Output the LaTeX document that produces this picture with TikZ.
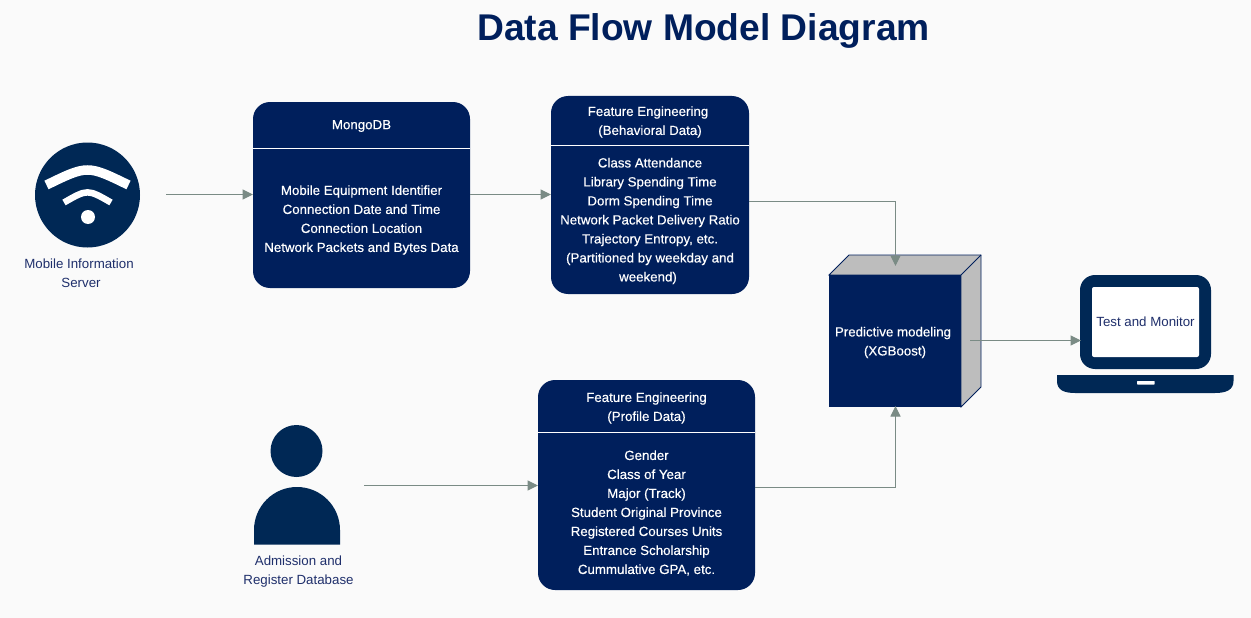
\documentclass[tikz,border=0pt]{standalone}
\usepackage{fontspec}
\setmainfont{Liberation Sans}
\newfontfamily\panelfont[FakeBold=0.4]{Liberation Sans}
\usetikzlibrary{arrows.meta}
\definecolor{navy}{HTML}{001F5C}
\definecolor{icon}{HTML}{002855}
\definecolor{bgc}{HTML}{FAFAFA}
\definecolor{conn}{HTML}{7A8B85}
\definecolor{lab}{HTML}{1F2F6B}
\definecolor{side}{HTML}{BDBDBD}
\tikzset{
  x=1pt,y=-1pt,
  conn/.style={draw=conn,line width=1pt,-{Triangle[length=10.5pt,width=10pt]}},
  panel/.style={fill=navy,draw=none,rounded corners=17pt},
  rule/.style={draw=white,line width=1pt},
  inbox/.style={text=white,align=center,font=\panelfont\fontsize{13.3}{19}\selectfont,inner sep=0pt},
  label/.style={text=lab,align=center,font=\fontsize{13.3}{19}\selectfont,inner sep=0pt},
}
\begin{document}
\begin{tikzpicture}
\useasboundingbox (0,0) rectangle (1251,618);
\fill[bgc] (0,0) rectangle (1251,618);
\node[text=navy,font=\bfseries\fontsize{37.2}{40}\selectfont,inner sep=0pt] (title) at (703.5,31) {Data Flow Model Diagram};

% wifi icon
\node[circle,fill=icon,minimum size=105pt,inner sep=0pt] (wifi) at (87.5,195) {};
\draw[white,line width=9.5pt] (46.5,185) .. controls (87.5,165) .. (128.5,185);
\draw[white,line width=6.5pt] (64,202.5) .. controls (87.5,189) .. (111,202.5);
\fill[white] (88,217) circle (7);
\node[label] (wifil) at (79,273) {Mobile Information\\\hspace*{4pt}Server};

% person icon
\node[circle,fill=icon,minimum size=52pt,inner sep=0pt] (head) at (296.5,451) {};
\fill[icon] (254,544.5) -- (254,530) arc[start angle=180,end angle=0,x radius=43,y radius=-43] -- (340,544.5) -- cycle;
\node[label] (personl) at (298.5,571.5) {Admission and\\Register Database};

% panels
\fill[panel] (253,102) rectangle (470,288);
\coordinate (mongoL) at (253,194);
\coordinate (mongoR) at (470,194);
\draw[rule] (253,148) -- (470,148);
\node[inbox] (mongot) at (361.5,126) {MongoDB};
\node[inbox] (mongob) at (361.5,220) {Mobile Equipment Identifier\\Connection Date and Time\\Connection Location\\Network Packets and Bytes Data};

\fill[panel] (551,96) rectangle (749,294);
\coordinate (behL) at (551,194);
\coordinate (behR) at (749,201.5);
\draw[rule] (551,145) -- (749,145);
\node[inbox] (beht) at (648,122) {Feature Engineering\\\hspace*{4pt}(Behavioral Data)};
\node[inbox] (behb) at (650,221) {Class Attendance\\Library Spending Time\\Dorm Spending Time\\Network Packet Delivery Ratio\\Trajectory Entropy, etc.\\(Partitioned by weekday and\hspace*{4pt}\\weekend)\hspace*{4pt}};

\fill[panel] (538,380) rectangle (755,590);
\coordinate (proL) at (538,485);
\coordinate (proR) at (755,487);
\draw[rule] (538,432.5) -- (755,432.5);
\node[inbox] (prot) at (646.5,408) {Feature Engineering\\(Profile Data)};
\node[inbox] (prob) at (646.5,513) {Gender\\Class of Year\\Major (Track)\\Student Original Province\\Registered Courses Units\\Entrance Scholarship\\Cummulative GPA, etc.};

% cube
\filldraw[fill=side,draw=navy,line width=0.8pt] (829,275) -- (849,255) -- (981,255) -- (981,387) -- (961,407) -- (961,275) -- cycle;
\draw[navy,line width=0.8pt] (981,255) -- (961,275);
\node[fill=navy,minimum width=132pt,minimum height=132pt,inner sep=0pt] (cube) at (895,341) {};
\node[inbox] (cubet) at (893,342.5) {Predictive modeling\\\hspace*{4pt}(XGBoost)};

% laptop
\fill[icon,rounded corners=15pt] (1080,275) rectangle (1211,369);
\fill[white,rounded corners=2pt] (1092,287) rectangle (1199,357);
\fill[icon] (1057,375) -- (1233.5,375) -- (1233.5,381) .. controls (1233.5,390) and (1226,393) .. (1215,393) -- (1075,393) .. controls (1064,393) and (1057,390) .. (1057,381) -- cycle;
\fill[white,rounded corners=0.5pt] (1137,381) rectangle (1154.5,384.5);
\node[label] (laptop) at (1145.5,322) {Test and Monitor};

% connector ends
\coordinate (wifiout) at (166,194.5);
\coordinate (persout) at (364,485.5);
\coordinate (cubein1) at (895.5,266);
\coordinate (cubein2) at (895.5,406);
\coordinate (cubeout) at (970,340.5);
\coordinate (lapin) at (1081,340.5);

\draw[conn] (wifiout) -- (wifiout -| mongoL);
\draw[conn] (mongoR |- wifiout) -- (behL |- wifiout);
\draw[conn] (behR) -| (cubein1);
\draw[conn] (persout) -- (persout -| proL);
\draw[conn] (proR) -| (cubein2);
\draw[conn] (cubeout) -- (lapin);
\end{tikzpicture}
\end{document}
